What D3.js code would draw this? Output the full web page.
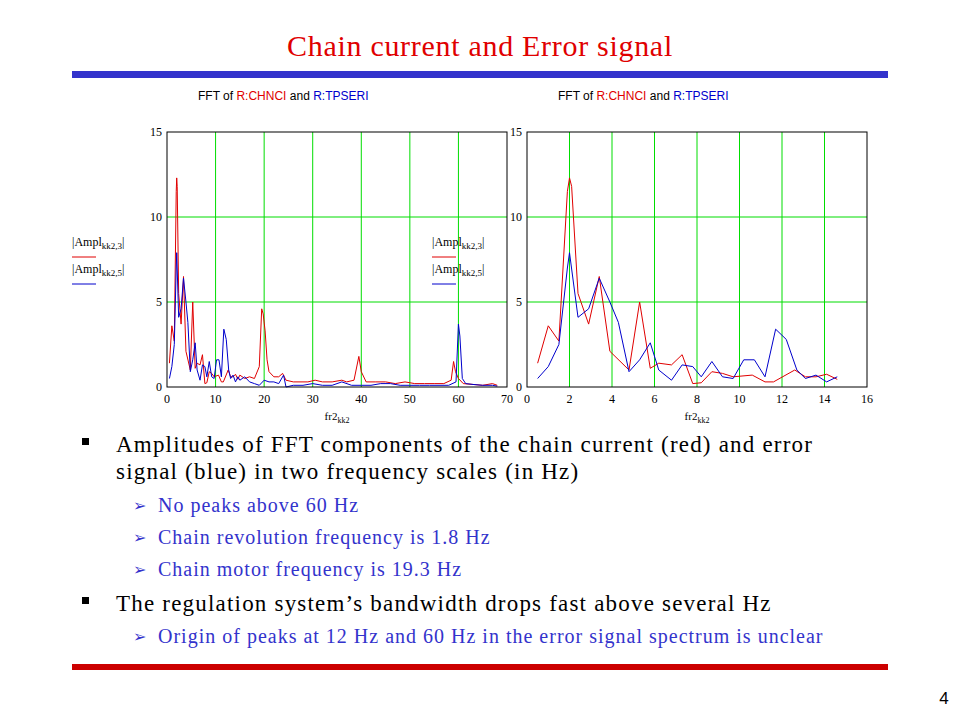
<!DOCTYPE html>
<html>
<head>
<meta charset="utf-8">
<style>
  body { margin: 0; background: #fff; }
</style>
</head>
<body>
<script src="https://cdn.jsdelivr.net/npm/d3@7"></script>
<script>
// low-frequency samples (Hz, amplitude)
var lowRed = [[0.5,1.4],[1.0,3.6],[1.5,2.7],[1.9,11.5],[2.0,12.3],[2.1,11.8],[2.4,5.5],[2.9,3.7],[3.4,6.5],[3.9,2.1],[4.8,1.0],[5.3,5.0],[5.8,1.1],[6.2,1.4],[6.8,1.3],[7.3,1.9],[7.8,0.2],[8.2,0.25],[8.7,0.9],[9.2,0.8],[9.7,0.6],[10.6,0.7],[11.2,0.3],[11.6,0.3],[12.6,1.0],[13.1,0.6],[13.6,0.6],[14.1,0.75],[14.6,0.45]];
var lowBlue = [[0.5,0.5],[1.0,1.2],[1.5,2.5],[1.9,7.0],[2.0,7.9],[2.4,4.1],[2.9,4.6],[3.4,6.4],[3.9,5.0],[4.3,3.8],[4.8,0.9],[5.3,1.6],[5.8,2.6],[6.2,1.0],[6.8,0.4],[7.3,1.3],[7.8,1.2],[8.2,0.6],[8.7,1.5],[9.2,0.6],[9.7,0.5],[10.2,1.6],[10.7,1.6],[11.2,0.6],[11.7,3.4],[12.2,2.8],[12.7,1.0],[13.1,0.5],[13.6,0.7],[14.1,0.3],[14.6,0.6]];
// high-frequency continuation for the wide plot
var highRed = [[15,0.7],[16,0.5],[17,0.6],[18,0.5],[19,1.2],[19.5,4.6],[19.8,4.3],[20.2,3.3],[20.6,1.6],[21,0.9],[22,0.6],[23,0.6],[23.8,0.8],[24.5,0.4],[26,0.3],[28,0.3],[29,0.3],[30.5,0.4],[32,0.3],[34,0.3],[36,0.4],[37,0.3],[38.5,0.4],[39.5,1.8],[40,0.9],[41,0.3],[43,0.3],[45,0.3],[47,0.2],[49,0.3],[51,0.2],[53,0.2],[55,0.2],[57,0.2],[58.5,0.4],[59,1.5],[59.4,0.9],[60,0.5],[61,0.2],[63,0.15],[65,0.1],[67,0.2],[68,0.1]];
var highBlue = [[15,0.4],[16,0.6],[17,0.3],[18,0.2],[19,0.1],[20,0.4],[21,0.3],[22,0.3],[23,0.2],[24,0.7],[24.5,0.0],[26,0.1],[28,0.1],[30,0.2],[32,0.1],[34,0.1],[36,0.3],[38,0.1],[40,0.1],[42,0.1],[44,0.2],[46,0.2],[48,0.1],[50,0.1],[52,0.1],[54,0.1],[56,0.1],[58,0.1],[59.5,0.3],[60,3.7],[60.3,3.0],[60.8,0.5],[61.5,0.2],[63,0.15],[65,0.1],[67,0.1],[68,0.05]];
var yTicks = [0, 5, 10, 15];
var xTicksWide = [0, 10, 20, 30, 40, 50, 60, 70];
var xTicksNarrow = [0, 2, 4, 6, 8, 10, 12, 14, 16];

var bullets = [
  {lvl: 1, y: 452, t: "Amplitudes of FFT components of the chain current (red) and error"},
  {lvl: 1, y: 479, t: "signal (blue) in two frequency scales (in Hz)", cont: true},
  {lvl: 2, y: 512, t: "No peaks above 60 Hz"},
  {lvl: 2, y: 544, t: "Chain revolution frequency is 1.8 Hz"},
  {lvl: 2, y: 576, t: "Chain motor frequency is 19.3 Hz"},
  {lvl: 1, y: 611, t: "The regulation system\u2019s bandwidth drops fast above several Hz"},
  {lvl: 2, y: 643, t: "Origin of peaks at 12 Hz and 60 Hz in the error signal spectrum is unclear"}
];

var SERIF = "Liberation Serif, serif", SANS = "Liberation Sans, Arial, sans-serif";
var svg = d3.select("body").append("svg").attr("width", 960).attr("height", 720)
  .style("font-family", SERIF);

svg.append("text").attr("x", 480).attr("y", 56).attr("text-anchor", "middle")
  .attr("font-size", 30).attr("letter-spacing", 0.7).attr("fill", "#e00000").text("Chain current and Error signal");
svg.append("rect").attr("x", 72).attr("y", 71).attr("width", 816).attr("height", 7).attr("fill", "#3333cc");
svg.append("rect").attr("x", 72).attr("y", 664).attr("width", 816).attr("height", 6).attr("fill", "#cc0000");
svg.append("text").attr("x", 944).attr("y", 704).attr("text-anchor", "middle")
  .attr("font-size", 17).style("font-family", SANS).text("4");

function chart(opt) {
  var x = d3.scaleLinear().domain(opt.xd).range([opt.x0, opt.x1]);
  var y = d3.scaleLinear().domain([0, 15]).range([387, 132]);
  var g = svg.append("g");
  g.selectAll(".gx").data(opt.xt.slice(1, -1)).join("line")
    .attr("x1", d => x(d)).attr("x2", d => x(d)).attr("y1", 132).attr("y2", 387)
    .attr("stroke", "#00dd00").attr("stroke-width", 1);
  g.selectAll(".gy").data(yTicks.slice(1, -1)).join("line")
    .attr("y1", d => y(d)).attr("y2", d => y(d)).attr("x1", opt.x0).attr("x2", opt.x1)
    .attr("stroke", "#00dd00").attr("stroke-width", 1);
  var line = d3.line().x(d => x(d[0])).y(d => y(d[1]));
  g.append("path").datum(opt.red).attr("d", line).attr("fill", "none").attr("stroke", "#e00000").attr("stroke-width", 1);
  g.append("path").datum(opt.blue).attr("d", line).attr("fill", "none").attr("stroke", "#0000cc").attr("stroke-width", 1);
  g.append("rect").attr("x", opt.x0).attr("y", 132).attr("width", opt.x1 - opt.x0).attr("height", 255)
    .attr("fill", "none").attr("stroke", "#000");
  g.selectAll(".tx").data(opt.xt).join("text")
    .attr("x", d => x(d)).attr("y", 403).attr("text-anchor", "middle").attr("font-size", 12).text(d => d);
  g.selectAll(".ty").data(yTicks).join("text")
    .attr("x", opt.x0 - 5).attr("y", d => y(d) + 4).attr("text-anchor", "end").attr("font-size", 12).text(d => d);
  var xl = g.append("text").attr("x", (opt.x0 + opt.x1) / 2).attr("y", 420).attr("text-anchor", "middle")
    .attr("font-size", 11);
  xl.append("tspan").text("fr2");
  xl.append("tspan").attr("font-size", 8).attr("dy", 3).text("kk2");
  var tt = g.append("text").attr("x", opt.tx).attr("y", 100).attr("font-size", 12).style("font-family", SANS);
  tt.append("tspan").text("FFT of ");
  tt.append("tspan").attr("fill", "#e00000").text("R:CHNCI");
  tt.append("tspan").text(" and ");
  tt.append("tspan").attr("fill", "#0000cc").text("R:TPSERI");
  [["3", "#e00000", 0], ["5", "#0000cc", 27]].forEach(function (l) {
    var t = g.append("text").attr("x", opt.lx).attr("y", 246 + l[2]).attr("font-size", 12);
    t.append("tspan").text("|Ampl");
    t.append("tspan").attr("font-size", 9).attr("dy", 3).text("kk2," + l[0]);
    t.append("tspan").attr("dy", -3).text("|");
    g.append("line").attr("x1", opt.lx).attr("x2", opt.lx + 24).attr("y1", 257 + l[2]).attr("y2", 257 + l[2])
      .attr("stroke", l[1]);
  });
}

chart({xd: [0, 70], xt: xTicksWide, x0: 167, x1: 507, red: lowRed.concat(highRed), blue: lowBlue.concat(highBlue), tx: 198, lx: 72});
chart({xd: [0, 16], xt: xTicksNarrow, x0: 527, x1: 867, red: lowRed, blue: lowBlue, tx: 558, lx: 432});

var bt = svg.append("g").selectAll("g").data(bullets).join("g");
bt.filter(d => d.lvl === 1 && !d.cont).append("rect")
  .attr("x", 82).attr("y", d => d.y - 14).attr("width", 7).attr("height", 7).attr("fill", "#000");
bt.filter(d => d.lvl === 2).append("text").attr("x", 133).attr("y", d => d.y - 1)
  .attr("font-size", 16).attr("fill", "#3333cc").style("font-family", "DejaVu Sans, sans-serif").text("\u27a2");
bt.append("text").attr("x", d => d.lvl === 1 ? 116 : 158).attr("y", d => d.y)
  .attr("font-size", d => d.lvl === 1 ? 23 : 20)
  .attr("letter-spacing", d => d.lvl === 1 ? 1.2 : 1.0)
  .attr("fill", d => d.lvl === 1 ? "#000" : "#3333cc").text(d => d.t);
</script>
</body>
</html>
